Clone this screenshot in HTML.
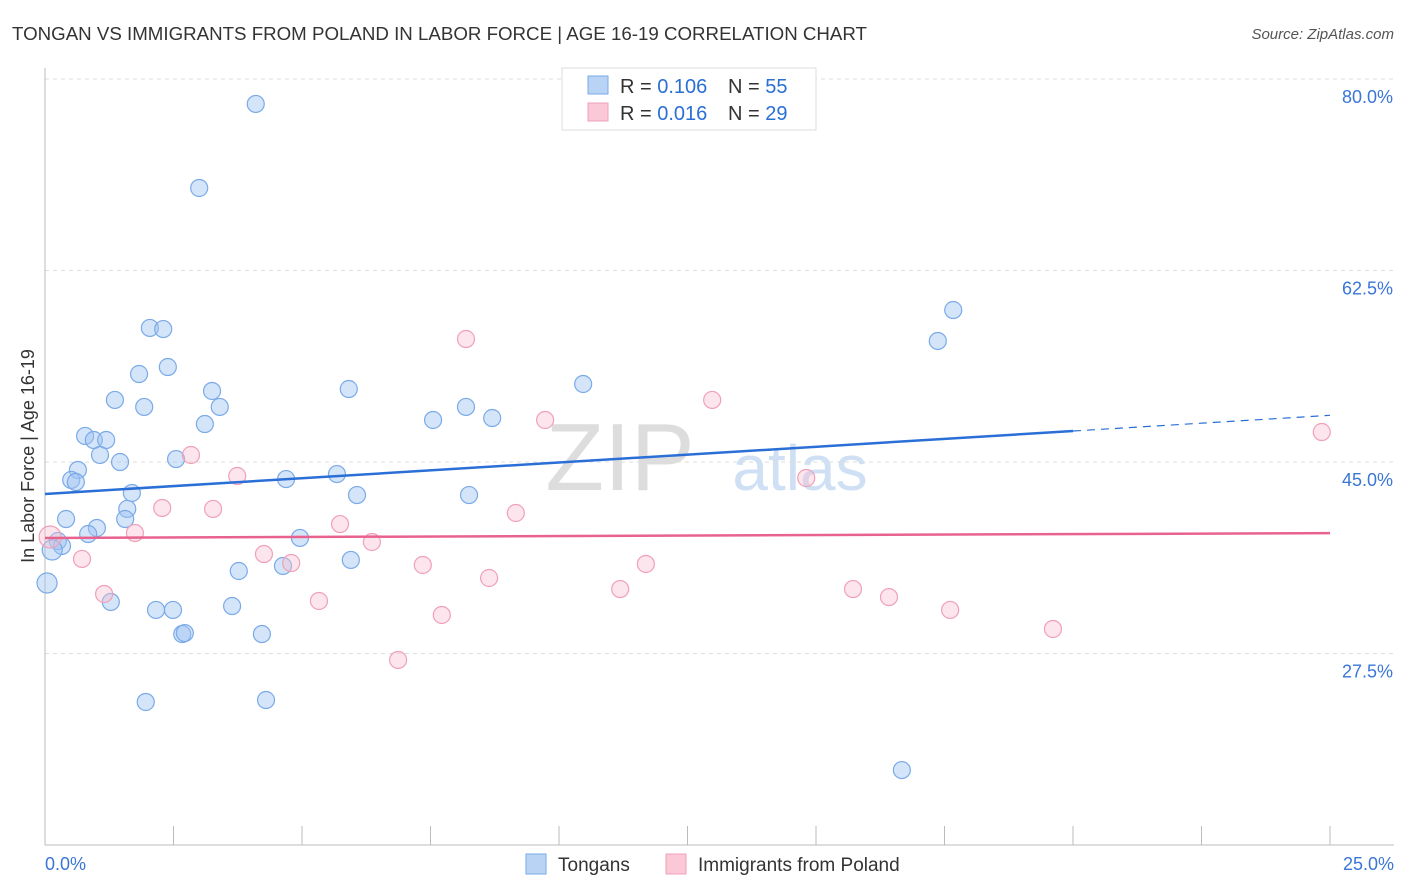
<!DOCTYPE html>
<html><head><meta charset="utf-8">
<style>
body{margin:0;background:#fff;font-family:"Liberation Sans",sans-serif;}
#wrap{position:relative;width:1406px;height:892px;overflow:hidden;}
svg text{font-family:"Liberation Sans",sans-serif;}
</style></head>
<body>
<div id="wrap">
<svg id="chart" width="1406" height="892">
<text x="12" y="40" font-size="18" fill="#333" textLength="855" lengthAdjust="spacingAndGlyphs">TONGAN VS IMMIGRANTS FROM POLAND IN LABOR FORCE | AGE 16-19 CORRELATION CHART</text>
<text x="1394" y="39" font-size="15" fill="#555" font-style="italic" text-anchor="end">Source: ZipAtlas.com</text>
<text x="620" y="490" font-size="96" fill="#ddd" font-family="Liberation Serif" text-anchor="middle">ZIP</text>
<text x="800" y="490" font-size="64" fill="#cfe0f5" text-anchor="middle">atlas</text>
<text transform="translate(34,456) rotate(-90)" font-size="18" fill="#333" text-anchor="middle">In Labor Force | Age 16-19</text>
<g id="grid"></g><g id="marks"></g>
<g>
<rect x="562" y="68" width="254" height="62" fill="#fff" stroke="#ddd"/>
<rect x="588" y="76" width="20" height="18" fill="#b9d3f5" stroke="#7aaae8"/>
<rect x="588" y="103" width="20" height="18" fill="#fac8d6" stroke="#f0a0b8"/>
<text x="620" y="93" font-size="20" fill="#333">R = <tspan fill="#2a6fd6">0.106</tspan></text>
<text x="728" y="93" font-size="20" fill="#333">N = <tspan fill="#2a6fd6">55</tspan></text>
<text x="620" y="120" font-size="20" fill="#333">R = <tspan fill="#2a6fd6">0.016</tspan></text>
<text x="728" y="120" font-size="20" fill="#333">N = <tspan fill="#2a6fd6">29</tspan></text>
</g>
<g>
<rect x="526" y="854" width="20" height="20" fill="#b9d3f5" stroke="#7aaae8"/>
<text x="558" y="871" font-size="19" fill="#333">Tongans</text>
<rect x="666" y="854" width="20" height="20" fill="#fac8d6" stroke="#f0a0b8"/>
<text x="698" y="871" font-size="19" fill="#333">Immigrants from Poland</text>
</g>
</svg>
</div>
<script>
const yTicks=[80,62.5,45,27.5];
const yTickLabels=["80.0%","62.5%","45.0%","27.5%"];
const xTicks=[0,2.5,5,7.5,10,12.5,15,17.5,20,22.5,25];
const blueX=[4.10,3.00,2.04,2.30,17.67,17.37,1.83,2.39,10.47,5.91,3.25,1.36,1.93,3.40,8.19,8.70,7.55,3.11,0.78,0.95,1.19,1.07,1.46,2.55,0.64,0.51,0.60,5.68,4.69,1.69,6.07,8.25,1.60,0.41,1.56,1.01,0.84,4.96,0.25,0.33,0.14,0.04,3.77,4.63,5.95,1.28,2.16,2.49,3.64,2.67,2.72,4.22,1.96,4.30,16.67];
const blueY=[77.72,70.04,57.25,57.15,58.89,56.06,53.04,53.68,52.13,51.67,51.49,50.67,50.03,50.03,50.03,49.02,48.84,48.47,47.38,47.01,47.01,45.64,45.00,45.27,44.27,43.36,43.17,43.90,43.44,42.17,41.98,41.98,40.71,39.79,39.79,38.97,38.42,38.06,37.78,37.33,36.96,33.94,35.04,35.50,36.05,32.21,31.48,31.48,31.84,29.28,29.37,29.28,23.07,23.25,16.85];
const pinkX=[0.10,0.72,1.15,1.75,2.28,2.84,3.27,3.74,4.26,4.79,5.33,5.74,6.36,6.87,7.35,7.72,8.19,8.64,9.16,9.73,11.19,11.69,12.98,14.81,15.72,16.42,17.61,19.61,24.84];
const pinkY=[38.15,36.14,32.94,38.51,40.80,45.64,40.71,43.72,36.59,35.77,32.30,39.33,37.69,26.91,35.59,31.02,56.24,34.40,40.34,48.84,33.39,35.68,50.67,43.54,33.39,32.66,31.48,29.74,47.74];
const blueTrend=[42.08,47.83]; // at x=0 and x=20
const pinkTrend=[38.06,38.5];  // at x=0 and x=25
const X=v=>45+v*51.4, Y=v=>79+(80-v)*10.943;
const NS="http://www.w3.org/2000/svg";
function mk(tag,attrs,parent){const e=document.createElementNS(NS,tag);for(const k in attrs)e.setAttribute(k,attrs[k]);parent.appendChild(e);return e;}
const grid=document.getElementById('grid'),marks=document.getElementById('marks');
yTicks.forEach((t,i)=>{
 const l=mk('line',{x1:45,x2:1394,y1:Y(t),y2:Y(t),stroke:'#ddd','stroke-dasharray':'4,4'},grid);
 
 
 const tx=mk('text',{x:1393,y:Y(t)+24,'font-size':18,fill:'#3a76d6','text-anchor':'end'},grid);
 tx.textContent=yTickLabels[i];
 
 
});
const ax=mk('line',{x1:45,x2:1394,y1:845,y2:845,stroke:'#bbb'},grid);


const ay=mk('line',{x1:45,x2:45,y1:68,y2:845,stroke:'#bbb'},grid);


xTicks.forEach(t=>{
 const l=mk('line',{x1:X(t),x2:X(t),y1:826,y2:845,stroke:'#bbb'},grid);
 
 
});
[[0,"0.0%",'start',45],[25,"25.0%",'end',1394]].forEach(a=>{
 const tx=mk('text',{x:a[3],y:870,'font-size':18,fill:'#3a76d6','text-anchor':a[2]},grid);
 tx.textContent=a[1];
 
 
});
blueX.forEach((x,i)=>{
 const c=mk('circle',{cx:X(x),cy:Y(blueY[i]),r:x<0.2?10:8.5,fill:'rgba(160,196,242,0.45)',stroke:'#7aaae8','stroke-width':1.2},marks);
 
 
});
pinkX.forEach((x,i)=>{
 const c=mk('circle',{cx:X(x),cy:Y(pinkY[i]),r:x<0.2?11:8.5,fill:'rgba(248,190,208,0.4)',stroke:'#f0a0b8','stroke-width':1.2},marks);
 
 
});
const slope=(blueTrend[1]-blueTrend[0])/20;
const bt=mk('line',{x1:X(0),y1:Y(blueTrend[0]),x2:X(20),y2:Y(blueTrend[1]),stroke:'#2a6fd6','stroke-width':2.5},marks);


const bd=mk('line',{x1:X(20),y1:Y(blueTrend[1]),x2:X(25),y2:Y(blueTrend[0]+slope*25),stroke:'#2a6fd6','stroke-width':1.2,'stroke-dasharray':'8,6'},marks);


const pt=mk('line',{x1:X(0),y1:Y(pinkTrend[0]),x2:X(25),y2:Y(pinkTrend[1]),stroke:'#e8628e','stroke-width':2.5},marks);


</script>
</body></html>
